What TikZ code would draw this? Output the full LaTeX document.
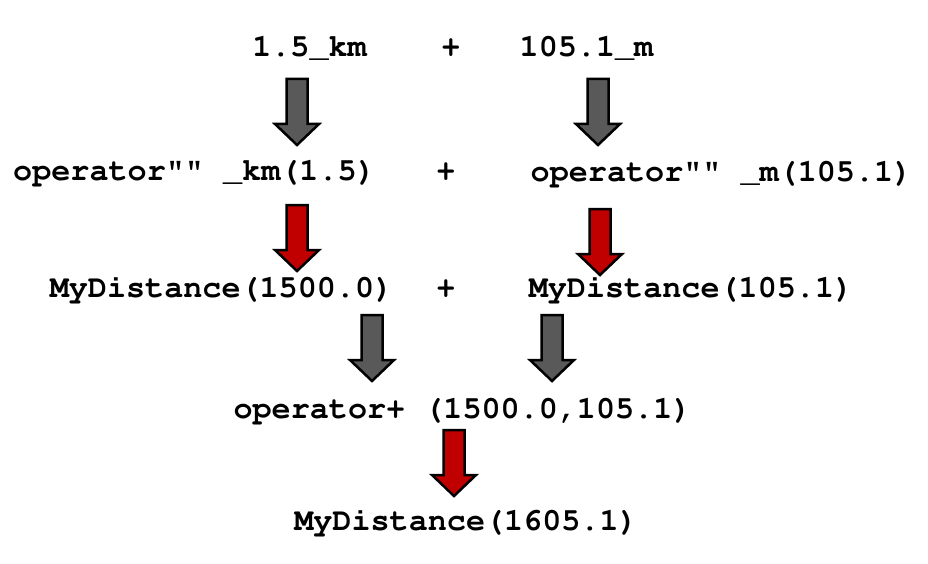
\documentclass[tikz,border=0pt]{standalone}
\usepackage[T1]{fontenc}
\definecolor{stepgray}{HTML}{595959}
\definecolor{stepred}{HTML}{C00000}
\tikzset{
  code/.style={font=\fontfamily{pcr}\bfseries\fontsize{31.8}{36}\selectfont, anchor=base, inner sep=0pt},
  blockarrow/.style={draw=black, line width=2.5pt, line join=miter}
}
\begin{document}
\begin{tikzpicture}[x=1pt, y=-1pt]
\useasboundingbox (0,0) rectangle (928,564);

% literals
\node[code] (kmlit) at (309.5,57) {1.5\_km};
\node[code] (plusA) at (451,57) {+};
\node[code] (mlit) at (586.5,57) {105.1\_m};

% literal operators
\node[code] (kmop) at (194.5,181) {operator"" \_km(1.5)};
\node[code] (plusB) at (446,181) {+};
\node[code] (mop) at (721.5,182) {operator"" \_m(105.1)};

% constructed objects
\node[code] (kmdist) at (221.5,297) {MyDistance(1500.0)};
\node[code] (plusC) at (446,297) {+};
\node[code] (mdist) at (691,297) {MyDistance(105.1)};

% addition and result
\node[code] (addop) at (462.5,418) {operator+ (1500.0,105.1)};
\node[code] (result) at (466,530) {MyDistance(1605.1)};

% block arrows: x, top, colour
\foreach \x/\y/\c in {297/79/stepgray, 598/79/stepgray, 297/205/stepred, 600/209/stepred,
                      372/315/stepgray, 552/315/stepgray, 454/430/stepred}
  \draw[blockarrow, fill=\c] (\x-10.5,\y) -- (\x+10.5,\y) -- (\x+10.5,\y+45)
    -- (\x+22,\y+45) -- (\x,\y+66) -- (\x-22,\y+45) -- (\x-10.5,\y+45) -- cycle;
\end{tikzpicture}
\end{document}
